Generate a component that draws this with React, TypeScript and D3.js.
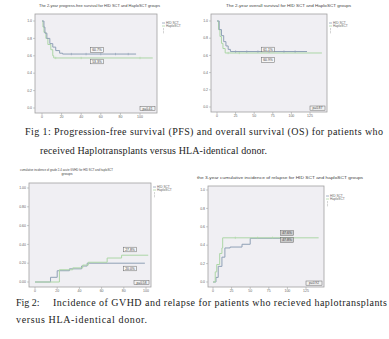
import React from 'react';
import * as d3 from 'd3';

// ---------- Fig 1a: 2-year PFS ----------
const pfsTicksX = [0, 20, 40, 60, 80, 100];
const pfsTicksY = [0, 0.2, 0.4, 0.6, 0.8, 1.0];
const pfsHidT = [0, 2, 3, 5, 8, 11, 14, 18, 21, 96];
const pfsHidS = [1.0, 0.93, 0.86, 0.8, 0.74, 0.7, 0.66, 0.63, 0.62, 0.62];
const pfsHidCensor = [30, 45, 60, 75, 88];
const pfsHapT = [0, 1, 2, 4, 6, 9, 11, 12, 113];
const pfsHapS = [1.0, 0.93, 0.87, 0.8, 0.73, 0.67, 0.6, 0.575, 0.575];
const pfsHapCensor = [14, 40, 100];

// ---------- Fig 1b: 2-year OS ----------
const osTicksX = [0, 25, 50, 75, 100, 125];
const osTicksY = [0, 0.2, 0.4, 0.6, 0.8, 1.0];
const osHidT = [0, 3, 6, 9, 12, 15, 18, 121];
const osHidS = [1.0, 0.9, 0.83, 0.76, 0.71, 0.67, 0.645, 0.645];
const osHidCensor = [25, 40, 55, 70, 90, 105];
const osHapT = [0, 2, 4, 6, 8, 11, 141];
const osHapS = [1.0, 0.9, 0.82, 0.74, 0.68, 0.628, 0.628];
const osHapCensor = [15, 30];

// ---------- Fig 2a: acute GVHD ----------
const gvTicksX = [0, 20, 40, 60, 80, 100];
const gvTicksY = [0, 0.2, 0.4, 0.6, 0.8, 1.0];
const gvHidT = [0, 14, 20, 31, 42, 47, 99];
const gvHidV = [0, 0.05, 0.12, 0.14, 0.17, 0.2, 0.2];
const gvHapT = [0, 22, 34, 43, 48, 65, 78, 102];
const gvHapV = [0, 0.13, 0.15, 0.18, 0.21, 0.255, 0.285, 0.285];

// ---------- Fig 2b: relapse ----------
const reTicksX = [0, 25, 50, 75, 100, 125];
const reTicksY = [0, 0.2, 0.4, 0.6, 0.8, 1.0];
const reHidT = [0, 4, 7, 12, 16, 23, 39, 50, 103];
const reHidV = [0, 0.05, 0.17, 0.27, 0.37, 0.38, 0.41, 0.475, 0.475];
const reHapT = [0, 3, 5, 9, 12, 13, 142];
const reHapV = [0, 0.11, 0.19, 0.31, 0.37, 0.48, 0.48];
const reHapCensor = [30, 60, 80];

const BLUE = '#8fa0b6';
const GREEN = '#acd6a6';
const SANS = 'Liberation Sans, Arial, sans-serif';
const SERIF = 'Liberation Serif, Times New Roman, serif';

type Series = { t: number[]; v: number[]; color: string; censor?: number[] };
type Lab = { x: number; y: number; text: string; fill?: string };

function Panel(props: {
  frame: [number, number, number, number];
  xDom: [number, number];
  xRng: [number, number];
  yRng: [number, number];
  xTicks: number[];
  yTicks: number[];
  yFmt: (v: number) => string;
  series: Series[];
  labels: Lab[];
  legend: [number, number];
  pBox: [number, number];
  pText: string;
}) {
  const { frame, xDom, xRng, yRng, xTicks, yTicks, yFmt, series, labels, legend, pBox, pText } = props;
  const [fx, fy, fx2, fy2] = frame;
  const x = d3.scaleLinear().domain(xDom).range(xRng);
  const y = d3.scaleLinear().domain([0, 1]).range(yRng);
  const line = d3
    .line<[number, number]>()
    .x((d) => x(d[0]))
    .y((d) => y(d[1]))
    .curve(d3.curveStepAfter);
  const stepAt = (s: Series, t: number) => {
    let val = s.v[0];
    for (let i = 0; i < s.t.length; i++) if (s.t[i] <= t) val = s.v[i];
    return val;
  };
  return (
    <g>
      <rect x={fx} y={fy} width={fx2 - fx} height={fy2 - fy} fill="#f0eff3" stroke="#a0a0a0" strokeWidth={0.8} />
      {yTicks.map((t) => (
        <g key={'y' + t}>
          <line x1={fx - 2} x2={fx} y1={y(t)} y2={y(t)} stroke="#999" strokeWidth={0.5} />
          <text x={fx - 3} y={y(t) + 1.2} fontSize={3.5} textAnchor="end" fill="#666" fontFamily={SANS}>
            {yFmt(t)}
          </text>
        </g>
      ))}
      {xTicks.map((t) => (
        <g key={'x' + t}>
          <line x1={x(t)} x2={x(t)} y1={fy2} y2={fy2 + 2} stroke="#999" strokeWidth={0.5} />
          <text x={x(t)} y={fy2 + 5} fontSize={3.5} textAnchor="middle" fill="#666" fontFamily={SANS}>
            {t}
          </text>
        </g>
      ))}
      {series.map((s, i) => (
        <g key={'s' + i}>
          <path
            d={line(s.t.map((t, j) => [t, s.v[j]] as [number, number])) || ''}
            fill="none"
            stroke={s.color}
            strokeWidth={1}
          />
          {(s.censor || []).map((c) => (
            <line
              key={c}
              x1={x(c)}
              x2={x(c)}
              y1={y(stepAt(s, c)) - 1.2}
              y2={y(stepAt(s, c)) + 1.2}
              stroke={s.color}
              strokeWidth={0.6}
            />
          ))}
        </g>
      ))}
      {labels.map((l, i) => (
        <g key={'l' + i}>
          <rect x={l.x - 6.5} y={l.y - 2.3} width={13} height={4.6} fill={l.fill || '#f6f6f6'} stroke="#666" strokeWidth={0.5} />
          <text x={l.x} y={l.y + 1.2} fontSize={3.4} textAnchor="middle" fill="#444" fontFamily={SANS}>
            {l.text}
          </text>
        </g>
      ))}
      <rect x={pBox[0]} y={pBox[1]} width={fx2 - 2 - pBox[0]} height={4.2} fill="#f2f2f2" stroke="#666" strokeWidth={0.5} />
      <text x={(pBox[0] + fx2 - 2) / 2} y={pBox[1] + 3.1} fontSize={3.2} textAnchor="middle" fill="#444" fontFamily={SANS}>
        {pText}
      </text>
      <g transform={`translate(${legend[0]},${legend[1]})`}>
        <line x1={0} x2={3} y1={0} y2={0} stroke={BLUE} strokeWidth={0.8} />
        <text x={4} y={1.1} fontSize={3.2} fill="#666" fontFamily={SANS}>HID SCT</text>
        <line x1={0} x2={3} y1={3} y2={3} stroke={GREEN} strokeWidth={0.8} />
        <text x={4} y={4.1} fontSize={3.2} fill="#666" fontFamily={SANS}>HaploSCT</text>
        <line x1={1.5} x2={1.5} y1={5} y2={7.4} stroke="#aaa" strokeWidth={0.5} />
        <line x1={1.5} x2={1.5} y1={8} y2={10.4} stroke="#aaa" strokeWidth={0.5} />
      </g>
    </g>
  );
}

export default function App() {
  const f1 = (v: number) => v.toFixed(1);
  const f2 = (v: number) => v.toFixed(2);
  return (
    <svg
      width={389}
      height={339}
      viewBox="0 0 389 339"
      style={{ position: 'absolute', left: 0, top: 0, background: '#fff' }}
    >
      <rect x={0} y={0} width={389} height={339} fill="#fff" />
      {/* Titles */}
      <text x={39} y={6.5} fontSize={3.8} fill="#444" fontFamily={SANS} textLength={121} lengthAdjust="spacingAndGlyphs">
        The 2-year progress-free survival for HID SCT and HaploSCT groups
      </text>
      <text x={226} y={6.5} fontSize={3.8} fill="#444" fontFamily={SANS} textLength={125} lengthAdjust="spacingAndGlyphs">
        The 2-year overall survival for HID SCT and HaploSCT groups
      </text>
      <text x={20} y={170.5} fontSize={3.6} fill="#444" fontFamily={SANS} textLength={93} lengthAdjust="spacingAndGlyphs">
        cumulative incidence of grade 2-4 acute GVHD for HID SCT and haploSCT
      </text>
      <text x={67} y={174.8} fontSize={3.6} fill="#444" fontFamily={SANS} textAnchor="middle">
        groups
      </text>
      <text x={197} y={179} fontSize={3.6} fill="#444" fontFamily={SANS} textLength={166} lengthAdjust="spacingAndGlyphs">
        the 3-year cumulative incidence of relapse for HID SCT and haploSCT groups
      </text>

      <Panel
        frame={[35, 14, 157, 113]}
        xDom={[0, 100]}
        xRng={[42, 140]}
        yRng={[108, 21]}
        xTicks={pfsTicksX}
        yTicks={pfsTicksY}
        yFmt={f1}
        series={[
          { t: pfsHapT, v: pfsHapS, color: GREEN, censor: pfsHapCensor },
          { t: pfsHidT, v: pfsHidS, color: BLUE, censor: pfsHidCensor },
        ]}
        labels={[
          { x: 97, y: 50, text: '60.7%' },
          { x: 97, y: 61.5, text: '53.3%' },
        ]}
        legend={[162, 23]}
        pBox={[140, 106.5]}
        pText="p=0.41"
      />
      <Panel
        frame={[211, 14, 327, 112]}
        xDom={[0, 125]}
        xRng={[217, 310]}
        yRng={[107, 21]}
        xTicks={osTicksX}
        yTicks={osTicksY}
        yFmt={f1}
        series={[
          { t: osHapT, v: osHapS, color: GREEN, censor: osHapCensor },
          { t: osHidT, v: osHidS, color: BLUE, censor: osHidCensor },
        ]}
        labels={[
          { x: 268, y: 49.5, text: '61.1%' },
          { x: 268, y: 60, text: '60.9%' },
        ]}
        legend={[329, 23]}
        pBox={[310, 106]}
        pText="p=0.87"
      />
      <Panel
        frame={[29, 183, 151, 287]}
        xDom={[0, 100]}
        xRng={[35, 146]}
        yRng={[282, 188]}
        xTicks={gvTicksX}
        yTicks={gvTicksY}
        yFmt={f2}
        series={[
          { t: gvHidT, v: gvHidV, color: BLUE },
          { t: gvHapT, v: gvHapV, color: GREEN },
        ]}
        labels={[
          { x: 130, y: 249.5, text: '27.8%' },
          { x: 130, y: 268.5, text: '20.0%' },
        ]}
        legend={[153, 187]}
        pBox={[134, 280.5]}
        pText="p=0.58"
      />
      <Panel
        frame={[208, 186, 324, 287]}
        xDom={[0, 125]}
        xRng={[213, 306]}
        yRng={[282, 190]}
        xTicks={reTicksX}
        yTicks={reTicksY}
        yFmt={f1}
        series={[
          { t: reHidT, v: reHidV, color: BLUE },
          { t: reHapT, v: reHapV, color: GREEN, censor: reHapCensor },
        ]}
        labels={[
          { x: 287, y: 233, text: '47.6%', fill: '#c9c9c9' },
          { x: 287, y: 240, text: '47.8%', fill: '#c9c9c9' },
        ]}
        legend={[326, 196]}
        pBox={[306, 281]}
        pText="p=0.92"
      />

      {/* Captions */}
      <text x={25} y={134.5} fontSize={10} fill="#1c1c1c" fontFamily={SERIF} textLength={358} lengthAdjust="spacing">
        Fig 1: Progression-free survival (PFS) and overall survival (OS) for patients who
      </text>
      <text x={40} y={153.5} fontSize={10} fill="#1c1c1c" fontFamily={SERIF} textLength={227} lengthAdjust="spacing">
        received Haplotransplants versus HLA-identical donor.
      </text>
      <text x={16} y={305.5} fontSize={10} fill="#1c1c1c" fontFamily={SERIF}>
        Fig 2:
      </text>
      <text x={53} y={305.5} fontSize={10} fill="#1c1c1c" fontFamily={SERIF} textLength={334} lengthAdjust="spacing">
        Incidence of GVHD and relapse for patients who recieved haplotransplants
      </text>
      <text x={16} y={323} fontSize={10} fill="#1c1c1c" fontFamily={SERIF} textLength={131} lengthAdjust="spacing">
        versus HLA-identical donor.
      </text>
    </svg>
  );
}
